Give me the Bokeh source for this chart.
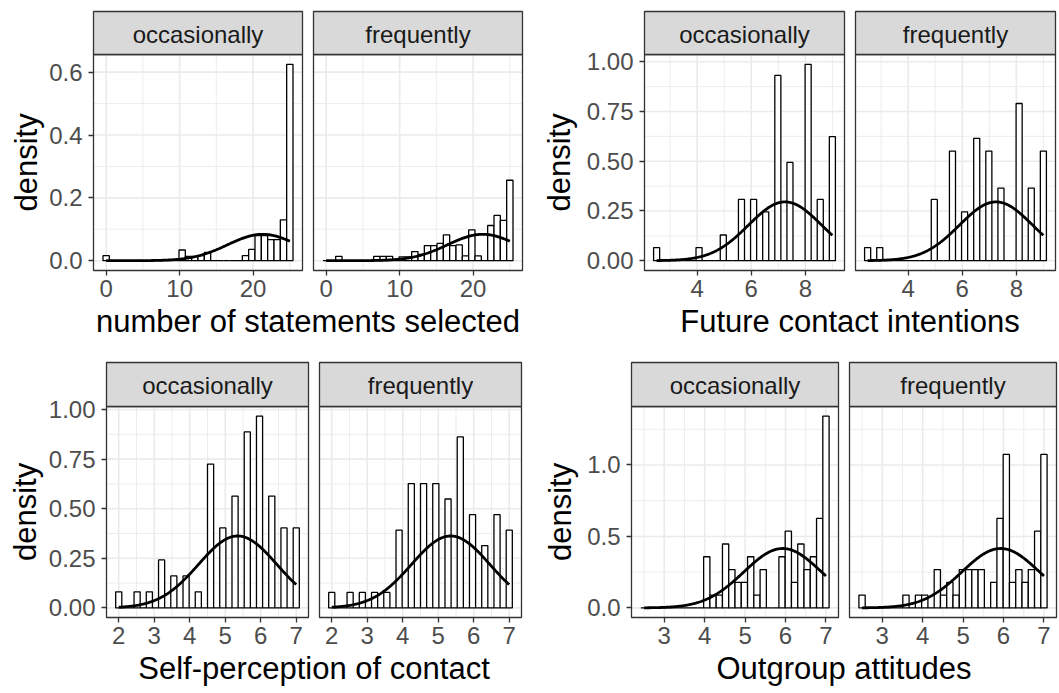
import math
from bokeh.plotting import figure
from bokeh.models import Range1d, FixedTicker, Title
from bokeh.layouts import row, column
from bokeh.embed import file_html
from bokeh.resources import INLINE
from bokeh.core.properties import value

FACETS = ["occasionally", "frequently"]
Y_TITLE = "density"

# ---- number of statements selected ----
stmt_title = "number of statements selected"
stmt_range = [0, 25]
stmt_occ = [0.016, 0, 0, 0, 0, 0, 0, 0, 0, 0, 0, 0, 0.034, 0.014, 0.014, 0.016, 0.026,
            0, 0, 0, 0, 0, 0.016, 0.036, 0.08, 0.08, 0.067, 0.067, 0.13, 0.625]
stmt_freq = [0, 0, 0.014, 0, 0, 0, 0, 0, 0.014, 0.014, 0.014, 0, 0.012, 0.012, 0.029, 0.02,
             0.048, 0.048, 0.055, 0.082, 0.048, 0.05, 0.015, 0.098, 0.015, 0, 0.112, 0.144, 0.128, 0.256]
stmt_norm = [21.3, 4.75]
stmt_xticks = [0, 10, 20]
stmt_xlabels = ["0", "10", "20"]
stmt_xminor = [5, 15, 25]
stmt_yticks = [0, 0.2, 0.4, 0.6]
stmt_ylabels = ["0.0", "0.2", "0.4", "0.6"]
stmt_yminor = [0.1, 0.3, 0.5]

# ---- Future contact intentions ----
fut_title = "Future contact intentions"
fut_range = [2.5, 9.0]
fut_occ = [0.066, 0, 0, 0, 0, 0, 0, 0.066, 0, 0, 0, 0.129, 0, 0, 0.308, 0, 0.308, 0, 0.245, 0,
           0.931, 0, 0.494, 0, 0, 0.987, 0, 0.308, 0, 0.624]
fut_freq = [0.066, 0, 0.066, 0, 0, 0, 0, 0, 0, 0, 0, 0.308, 0, 0, 0.551, 0, 0.245, 0, 0.615, 0,
            0.551, 0, 0.365, 0, 0, 0.79, 0, 0.365, 0, 0.551]
fut_norm = [7.25, 1.35]
fut_xticks = [4, 6, 8]
fut_xlabels = ["4", "6", "8"]
fut_xminor = [3, 5, 7, 9]
fut_yticks = [0, 0.25, 0.5, 0.75, 1.0]
fut_ylabels = ["0.00", "0.25", "0.50", "0.75", "1.00"]
fut_yminor = [0.125, 0.375, 0.625, 0.875]

# ---- Self-perception of contact ----
self_title = "Self-perception of contact"
self_range = [2.0, 7.0]
self_occ = [0.081, 0, 0, 0.081, 0, 0.081, 0, 0.242, 0, 0.161, 0, 0.161, 0, 0.081, 0, 0.725, 0,
            0.403, 0, 0.564, 0, 0.887, 0, 0.967, 0, 0.564, 0, 0.403, 0, 0.403]
self_freq = [0.078, 0, 0, 0.078, 0, 0.078, 0, 0.078, 0, 0.078, 0, 0.392, 0, 0.627, 0, 0.627, 0,
             0.627, 0, 0.549, 0, 0.862, 0, 0.470, 0, 0.314, 0, 0.470, 0, 0.392]
self_norm = [5.35, 1.1]
self_xticks = [2, 3, 4, 5, 6, 7]
self_xlabels = ["2", "3", "4", "5", "6", "7"]
self_xminor = [2.5, 3.5, 4.5, 5.5, 6.5]
self_yticks = [0, 0.25, 0.5, 0.75, 1.0]
self_ylabels = ["0.00", "0.25", "0.50", "0.75", "1.00"]
self_yminor = [0.125, 0.375, 0.625, 0.875]

# ---- Outgroup attitudes ----
out_title = "Outgroup attitudes"
out_range = [2.5, 7.0]
out_occ = [0, 0, 0, 0, 0, 0, 0, 0, 0, 0, 0.358, 0.0895, 0.0895, 0.447, 0.268, 0.179, 0.179,
           0.358, 0.0895, 0.268, 0, 0, 0.358, 0.537, 0.179, 0.447, 0.268, 0.358, 0.626, 1.342]
out_freq = [0.0895, 0, 0, 0, 0, 0, 0, 0.0895, 0, 0.0895, 0.0895, 0, 0.268, 0.0895, 0.179, 0.0895,
            0.268, 0.268, 0.268, 0.268, 0, 0.179, 0.626, 1.074, 0.179, 0.268, 0.179, 0.268, 0.537, 1.074]
out_norm = [5.93, 0.96]
out_xticks = [3, 4, 5, 6, 7]
out_xlabels = ["3", "4", "5", "6", "7"]
out_xminor = [2.5, 3.5, 4.5, 5.5, 6.5]
out_yticks = [0, 0.5, 1.0]
out_ylabels = ["0.0", "0.5", "1.0"]
out_yminor = [0.25, 0.75, 1.25]

FONT = "Liberation Sans"
M = 2          # px of white margin kept around the panels inside the frame
YT_LEN = 98    # approx. rendered length of the y title, px


def make_block(title, xrng, occ, freq, norm, xt, xl, xm, yt, yl, ym, lay):
    nb = len(occ)
    xmin, xmax = xrng
    w = (xmax - xmin) / (nb - 1)
    centers = [xmin + i * w for i in range(nb)]
    lo, hi = xmin - 2 * w, xmax + 2 * w
    pw, gap = lay["pw"], lay["gap"]
    kx = pw / (hi - lo)
    D = (pw + gap) / kx
    top = max(max(occ), max(freq))
    ylo, yhi = -0.05 * top, 1.05 * top
    ph, sh = lay["panel_h"], lay["strip_h"]
    ky = ph / (yhi - ylo)

    Lb = lay["left"] - M
    frame_w = 2 * pw + gap + 2 * M
    Rb = lay["fig_w"] - Lb - frame_w
    Tb = lay["strip_top"] - M
    Bb = lay["row_h"] - (lay["strip_top"] + sh + ph) - M

    p = figure(width=lay["fig_w"], height=lay["row_h"],
               x_range=Range1d(lo - M / kx, hi + D + M / kx),
               y_range=Range1d(ylo - M / ky, yhi + (sh + M) / ky),
               output_backend="svg", toolbar_location=None,
               min_border_left=Lb, min_border_right=Rb, min_border_top=Tb, min_border_bottom=Bb)
    p.outline_line_color = None
    p.xgrid.visible = False
    p.ygrid.visible = False
    offs = [0, D]

    # grid (theme_bw look)
    for o in offs:
        p.segment(x0=[v + o for v in xm], y0=ylo, x1=[v + o for v in xm], y1=yhi,
                  line_color="#EBEBEB", line_width=0.9)
        p.segment(x0=lo + o, y0=ym, x1=hi + o, y1=ym, line_color="#EBEBEB", line_width=0.9)
        p.segment(x0=[v + o for v in xt], y0=ylo, x1=[v + o for v in xt], y1=yhi,
                  line_color="#EBEBEB", line_width=1.6)
        p.segment(x0=lo + o, y0=yt, x1=hi + o, y1=yt, line_color="#EBEBEB", line_width=1.6)

    # histograms + normal curve
    mu, sd = norm
    cx = [xmin + (xmax - xmin) * i / 240 for i in range(241)]
    cy = [math.exp(-0.5 * ((x - mu) / sd) ** 2) / (sd * math.sqrt(2 * math.pi)) for x in cx]
    for o, dens in zip(offs, [occ, freq]):
        p.quad(left=[c - w / 2 + o for c in centers], right=[c + w / 2 + o for c in centers],
               bottom=0, top=dens, fill_color="white", line_color="black", line_width=1.3)
        p.line([x + o for x in cx], cy, line_color="black", line_width=2.8)

    # panel borders
    p.quad(left=[lo + o for o in offs], right=[hi + o for o in offs], bottom=ylo, top=yhi,
           fill_color=None, line_color="#333333", line_width=1.3)

    # facet strips
    p.quad(left=[lo + o for o in offs], right=[hi + o for o in offs], bottom=yhi,
           top=yhi + sh / ky, fill_color="#D9D9D9", line_color="#333333", line_width=1.3)
    p.text(x=[(lo + hi) / 2 + o for o in offs], y=[yhi + (sh / 2 - 1) / ky] * 2, text=FACETS,
           text_align="center", text_baseline="middle", text_font=value(FONT),
           text_font_size="24px", text_color="#1A1A1A")

    # axes
    xt_all = [float(v) for v in xt] + [float(v + D) for v in xt]
    xl_all = list(xl) + list(xl)
    p.xaxis.ticker = FixedTicker(ticks=xt_all, minor_ticks=[])
    p.xaxis.major_label_overrides = {t: lab for t, lab in zip(xt_all, xl_all)}
    p.yaxis.ticker = FixedTicker(ticks=[float(v) for v in yt], minor_ticks=[])
    p.yaxis.major_label_overrides = {float(t): lab for t, lab in zip(yt, yl)}
    p.xaxis.axis_label = title
    for ax in (p.xaxis[0], p.yaxis[0]):
        ax.axis_line_color = None
        ax.major_tick_line_color = "#333333"
        ax.major_tick_line_width = 1.3
        ax.major_tick_in = M
        ax.major_tick_out = 3
        ax.minor_tick_line_color = None
        ax.major_label_text_font = FONT
        ax.major_label_text_font_size = "24px"
        ax.major_label_text_color = "#4D4D4D"
        ax.axis_label_text_font = FONT
        ax.axis_label_text_font_size = "31px"
        ax.axis_label_text_font_style = "normal"
        ax.axis_label_text_color = "black"
    p.xaxis.major_label_standoff = 4
    p.xaxis.axis_label_standoff = 4
    p.yaxis.major_label_standoff = 6

    # y title, centred on the panel (not on panel + strip)
    p.add_layout(Title(text=Y_TITLE, align="left", offset=M + (ph - YT_LEN) / 2,
                       standoff=lay["ylab_so"], text_font=FONT, text_font_size="31px",
                       text_font_style="normal", text_color="black"), "left")
    return p


tl = make_block(stmt_title, stmt_range, stmt_occ, stmt_freq, stmt_norm, stmt_xticks, stmt_xlabels,
                stmt_xminor, stmt_yticks, stmt_ylabels, stmt_yminor,
                dict(fig_w=530, row_h=346, strip_top=11, strip_h=43, panel_h=216,
                     left=93, pw=209, gap=11, ylab_so=6))
tr = make_block(fut_title, fut_range, fut_occ, fut_freq, fut_norm, fut_xticks, fut_xlabels,
                fut_xminor, fut_yticks, fut_ylabels, fut_yminor,
                dict(fig_w=529, row_h=346, strip_top=11, strip_h=43, panel_h=216,
                     left=114, pw=200, gap=11, ylab_so=14))
bl = make_block(self_title, self_range, self_occ, self_freq, self_norm, self_xticks, self_xlabels,
                self_xminor, self_yticks, self_ylabels, self_yminor,
                dict(fig_w=530, row_h=347, strip_top=16, strip_h=44, panel_h=211,
                     left=106, pw=202, gap=11, ylab_so=6))
br = make_block(out_title, out_range, out_occ, out_freq, out_norm, out_xticks, out_xlabels,
                out_xminor, out_yticks, out_ylabels, out_yminor,
                dict(fig_w=529, row_h=347, strip_top=16, strip_h=44, panel_h=211,
                     left=101, pw=207, gap=11, ylab_so=14))

layout = column(row(tl, tr, spacing=0), row(bl, br, spacing=0), spacing=0)
open("out.html", "w").write(file_html(layout, INLINE))
